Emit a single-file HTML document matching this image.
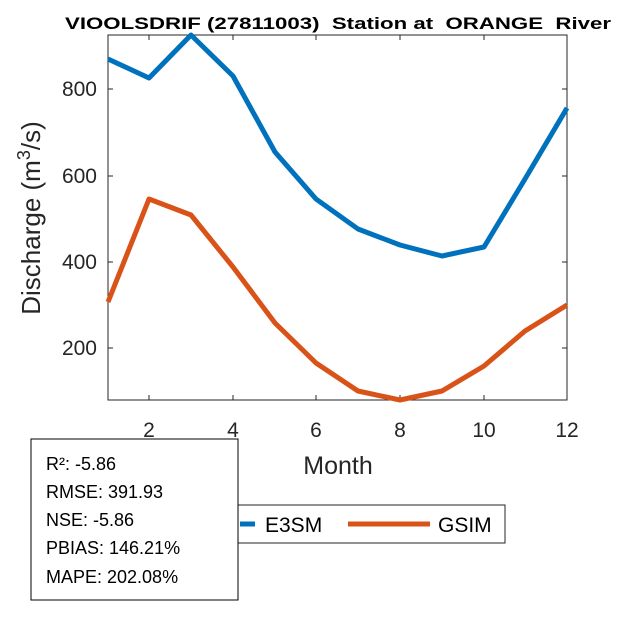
<!DOCTYPE html>
<html><head><meta charset="utf-8"><style>body{margin:0;background:#fff}svg{display:block}text{font-family:"Liberation Sans",Arial,sans-serif;white-space:pre}</style></head>
<body>
<svg width="625" height="625" viewBox="0 0 625 625">
<rect width="625" height="625" fill="#fff"/>
<text x="65" y="29" font-size="17" font-weight="bold" fill="#000" textLength="546" lengthAdjust="spacingAndGlyphs" xml:space="preserve">VIOOLSDRIF (27811003)  Station at  ORANGE  River</text>
<g stroke="#262626" stroke-width="1" fill="none">
<rect x="108" y="35" width="459" height="365"/>
<path d="M149,400v-5M233,400v-5M316,400v-5M400,400v-5M484,400v-5M149,35v5M233,35v5M316,35v5M400,35v5M484,35v5"/>
<path d="M108,89h5M108,176h5M108,262h5M108,348h5M567,89h-5M567,176h-5M567,262h-5M567,348h-5"/>
</g>
<g font-size="21" fill="#262626" text-anchor="middle">
<text x="149" y="437">2</text><text x="233" y="437">4</text><text x="316" y="437">6</text><text x="400" y="437">8</text><text x="484" y="437">10</text><text x="567" y="437">12</text>
</g>
<g font-size="21" fill="#262626" text-anchor="end">
<text x="97" y="96">800</text><text x="97" y="183">600</text><text x="97" y="269">400</text><text x="97" y="355">200</text>
</g>
<text x="338" y="474" font-size="25" fill="#262626" text-anchor="middle">Month</text>
<text transform="translate(40,218) rotate(-90)" font-size="26" fill="#262626" text-anchor="middle">Discharge (m<tspan dy="-10" font-size="18">3</tspan><tspan dy="10">/s)</tspan></text>
<polyline fill="none" stroke="#0072BD" stroke-width="5" stroke-linejoin="round" points="108,59 149,78 191,35 233,76 275,152 316,199 358,229 400,245 442,256 484,247 525,179 567,108"/>
<polyline fill="none" stroke="#D95319" stroke-width="5" stroke-linejoin="round" points="108,302 149,199 191,215 233,267 275,323 316,363 358,391 400,400 442,391 484,366 525,331 567,305"/>
<rect x="238" y="505" width="267" height="38" fill="#fff" stroke="#262626" stroke-width="1"/>
<line x1="240" y1="524" x2="255" y2="524" stroke="#0072BD" stroke-width="5"/>
<text x="265" y="532" font-size="21" fill="#000">E3SM</text>
<line x1="348" y1="524" x2="430" y2="524" stroke="#D95319" stroke-width="5"/>
<text x="438" y="532" font-size="21" fill="#000">GSIM</text>
<rect x="31" y="439" width="207" height="161" fill="#fff" stroke="#000" stroke-width="1"/>
<g font-size="18" fill="#000">
<text x="46" y="470">R²: -5.86</text>
<text x="46" y="498">RMSE: 391.93</text>
<text x="46" y="526">NSE: -5.86</text>
<text x="46" y="554">PBIAS: 146.21%</text>
<text x="46" y="583">MAPE: 202.08%</text>
</g>
</svg>
</body></html>
